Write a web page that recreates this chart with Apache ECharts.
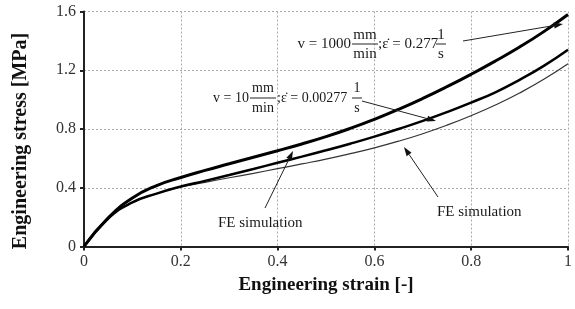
<!DOCTYPE html>
<html><head><meta charset="utf-8">
<script src="https://cdn.jsdelivr.net/npm/echarts@6/dist/echarts.min.js"></script>
<style>html,body{margin:0;padding:0;background:#fff}#c{width:575px;height:309px}</style>
</head><body><div id="c"></div>
<script>
const strain = [0, 0.05, 0.1, 0.15, 0.2, 0.25, 0.3, 0.35, 0.4, 0.45, 0.5, 0.55, 0.6, 0.65, 0.7, 0.75, 0.8, 0.85, 0.9, 0.95, 1.0];
const stressFast = [0, 0.195, 0.33, 0.415, 0.47, 0.518, 0.563, 0.608, 0.652, 0.698, 0.748, 0.804, 0.866, 0.934, 1.008, 1.088, 1.173, 1.263, 1.358, 1.463, 1.58];
const stressSlow = [0, 0.19, 0.30, 0.36, 0.408, 0.447, 0.487, 0.528, 0.570, 0.612, 0.655, 0.70, 0.748, 0.80, 0.855, 0.915, 0.98, 1.05, 1.135, 1.23, 1.34];
const stressFE   = [0, 0.19, 0.30, 0.36, 0.405, 0.437, 0.468, 0.498, 0.530, 0.562, 0.595, 0.632, 0.672, 0.717, 0.768, 0.826, 0.891, 0.963, 1.045, 1.138, 1.244];
const xTicks = [0, 0.2, 0.4, 0.6, 0.8, 1];
const yTicks = [0, 0.4, 0.8, 1.2, 1.6];

const F = 'Liberation Serif';
const pairs = a => strain.map((x, i) => [x, a[i]]);
const chart = echarts.init(document.getElementById('c'));

function arrow(x1, y1, x2, y2, w) {
  const ang = Math.atan2(y2 - y1, x2 - x1), L = 9, H = 3;
  const bx = x2 - L * Math.cos(ang), by = y2 - L * Math.sin(ang);
  const px = -Math.sin(ang) * H, py = Math.cos(ang) * H;
  return [
    {type: 'line', shape: {x1, y1, x2: bx, y2: by}, style: {stroke: '#222', lineWidth: w || 1}, z: 10},
    {type: 'polygon', shape: {points: [[x2, y2], [bx + px, by + py], [bx - px, by - py]]}, style: {fill: '#111'}, z: 10}
  ];
}
function txt(x, y, s, size, align) {
  return {type: 'text', x, y, style: {text: s, font: size + 'px "' + F + '"', fill: '#1a1a1a', align: align || 'left', verticalAlign: 'middle'}, z: 10};
}
function bar(x1, x2, y) {
  return {type: 'line', shape: {x1, y1: y, x2, y2: y}, style: {stroke: '#222', lineWidth: 1}, z: 10};
}

const g = [].concat(
  // label 1 (fast)
  txt(351, 44, 'v = 1000', 15, 'right'), txt(365, 35, 'mm', 15, 'center'), bar(352, 378, 44), txt(365, 54, 'min', 15, 'center'),
  txt(378, 44, ';ε̇ = 0.277', 15), txt(441, 35, '1', 15, 'center'), bar(436, 446, 44), txt(441, 54, 's', 15, 'center'),
  arrow(463, 41, 563, 24, 1),
  // label 2 (slow)
  txt(249, 98, 'v = 10', 14, 'right'), txt(263, 88, 'mm', 14, 'center'), bar(250, 276, 98), txt(263, 108, 'min', 14, 'center'),
  txt(277, 98, ';ε̇ = 0.00277', 14), txt(357, 88, '1', 14, 'center'), bar(352, 362, 98), txt(357, 108, 's', 14, 'center'),
  arrow(362, 101, 436, 121, 1),
  // FE simulation labels
  txt(218, 223, 'FE simulation', 15), arrow(265, 208, 293, 151, 1),
  txt(437, 212, 'FE simulation', 15), arrow(438, 197, 404, 147, 1),
  // y axis title
  {type: 'text', x: 21, y: 141, rotation: Math.PI / 2,
   style: {text: 'Engineering stress [MPa]', font: 'bold 20px "' + F + '"', fill: '#111', align: 'center', verticalAlign: 'middle'}}
);

chart.setOption({
  animation: false,
  grid: {left: 84, right: 3.5, top: 11.5, bottom: 62.5},
  xAxis: {
    type: 'value', min: xTicks[0], max: xTicks[xTicks.length - 1], interval: 0.2,
    axisLine: {lineStyle: {color: '#222', width: 2}},
    axisTick: {show: true, length: 4, lineStyle: {color: '#222', width: 2}},
    axisLabel: {color: '#333', fontFamily: F, fontSize: 16, margin: 7, formatter: v => String(+v.toFixed(1))},
    splitLine: {show: true, lineStyle: {color: '#aaa', type: [2, 2], width: 1}},
    name: 'Engineering strain [-]', nameLocation: 'middle', nameGap: 29,
    nameTextStyle: {fontFamily: F, fontSize: 19, fontWeight: 'bold', color: '#111'}
  },
  yAxis: {
    type: 'value', min: yTicks[0], max: yTicks[yTicks.length - 1], interval: 0.4,
    axisLine: {show: true, lineStyle: {color: '#222', width: 2}},
    axisTick: {show: true, length: 4, lineStyle: {color: '#222', width: 2}},
    axisLabel: {color: '#333', fontFamily: F, fontSize: 16, margin: 8, formatter: v => String(+v.toFixed(1))},
    splitLine: {show: true, lineStyle: {color: '#aaa', type: [2, 2], width: 1}}
  },
  series: [
    {type: 'line', data: pairs(stressFE), smooth: 0.5, symbol: 'none', lineStyle: {color: '#333', width: 1.2}, z: 3},
    {type: 'line', data: pairs(stressSlow), smooth: 0.5, symbol: 'none', lineStyle: {color: '#000', width: 2.5}, z: 4},
    {type: 'line', data: pairs(stressFast), smooth: 0.5, symbol: 'none', lineStyle: {color: '#000', width: 3}, z: 5}
  ],
  graphic: g
});
</script></body></html>
